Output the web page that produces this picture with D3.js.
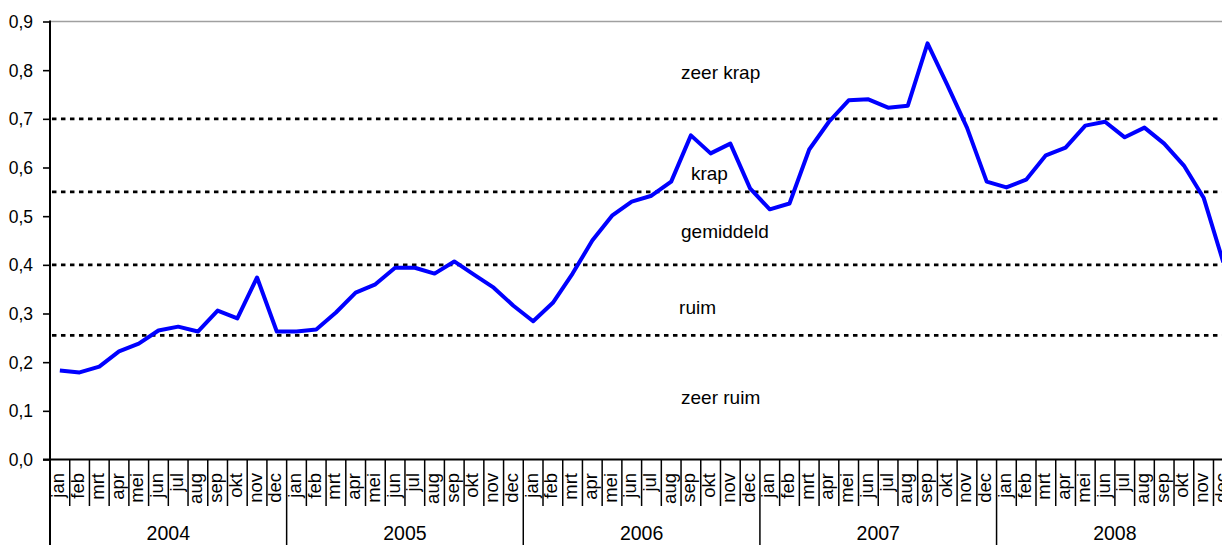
<!DOCTYPE html>
<html>
<head>
<meta charset="utf-8">
<script src="https://cdn.jsdelivr.net/npm/d3@7/dist/d3.min.js"></script>
<style>
  html, body { margin: 0; padding: 0; background: #fff; }
  svg { display: block; }
  text { font-family: "Liberation Sans", Arial, sans-serif; fill: #000; }
</style>
</head>
<body>
<svg id="chart" width="1222" height="545"></svg>
<script>
// ---- data ----
const years = ["2004", "2005", "2006", "2007", "2008"];
const months = ["jan", "feb", "mrt", "apr", "mei", "jun", "jul", "aug", "sep", "okt", "nov", "dec"];
const values = [
  // 2004
  0.183, 0.179, 0.191, 0.222, 0.238, 0.265, 0.273, 0.263, 0.306, 0.290, 0.374, 0.263,
  // 2005
  0.263, 0.267, 0.302, 0.343, 0.360, 0.394, 0.394, 0.382, 0.407, 0.380, 0.353, 0.316,
  // 2006
  0.284, 0.322, 0.382, 0.450, 0.501, 0.530, 0.542, 0.571, 0.666, 0.629, 0.649, 0.557,
  // 2007
  0.514, 0.526, 0.637, 0.694, 0.738, 0.740, 0.723, 0.727, 0.855, 0.770, 0.682, 0.571,
  // 2008
  0.559, 0.575, 0.625, 0.641, 0.686, 0.694, 0.662, 0.682, 0.649, 0.604, 0.538, 0.405
];
const yTicks = [0, 0.1, 0.2, 0.3, 0.4, 0.5, 0.6, 0.7, 0.8, 0.9];
const thresholds = [0.255, 0.40, 0.55, 0.70];
const zoneLabels = ["zeer krap", "krap", "gemiddeld", "ruim", "zeer ruim"];
const zoneLabelY = [0.782, 0.574, 0.455, 0.299, 0.114];
const zoneLabelX = [32.0, 32.5, 32.0, 31.9, 32.0]; // in month units from start

// ---- layout ----
const svg = d3.select("#chart");
const mLeft = 50, mTop = 21.5, mBottom = 459.5;
const monthW = 19.72;
const nMonths = years.length * months.length;
const mRight = mLeft + nMonths * monthW;

const x = d3.scaleLinear().domain([0, nMonths]).range([mLeft, mRight]);
const y = d3.scaleLinear().domain([0, 0.9]).range([mBottom, mTop]);

const fmt = v => d3.format(".1f")(v).replace(".", ",");

// top border (gray)
svg.append("line")
  .attr("x1", mLeft).attr("x2", mRight)
  .attr("y1", y(0.9)).attr("y2", y(0.9))
  .attr("stroke", "#a0a0a0").attr("stroke-width", 1.6);

// threshold dotted lines
svg.selectAll("line.thr").data(thresholds).enter().append("line")
  .attr("class", "thr")
  .attr("x1", x(0.1)).attr("x2", mRight)
  .attr("y1", d => y(d)).attr("y2", d => y(d))
  .attr("stroke", "#000").attr("stroke-width", 2.8)
  .attr("stroke-dasharray", "4.5,4.5");

// y axis
const yAxis = d3.axisLeft(y).tickValues(yTicks).tickFormat(fmt).tickSize(7).tickSizeOuter(0);
const gy = svg.append("g").attr("transform", `translate(${mLeft},0)`).call(yAxis);
gy.select(".domain").remove();
gy.selectAll(".tick line").attr("stroke", "#000").attr("stroke-width", 1.6);
gy.selectAll(".tick text").attr("font-size", 17.5).attr("x", -17).attr("dy", "0.34em")
  .style("font-family", "'Liberation Sans', Arial, sans-serif").attr("fill", "#000");

// y axis vertical line (extends down through year band)
svg.append("line")
  .attr("x1", mLeft).attr("x2", mLeft)
  .attr("y1", mTop - 1).attr("y2", 545)
  .attr("stroke", "#000").attr("stroke-width", 2);

// x axis line
svg.append("line")
  .attr("x1", mLeft - 7).attr("x2", mRight)
  .attr("y1", mBottom).attr("y2", mBottom)
  .attr("stroke", "#000").attr("stroke-width", 1.8);

// month separators
const boundaries = d3.range(1, nMonths + 1);
svg.selectAll("line.msep").data(boundaries).enter().append("line")
  .attr("class", "msep")
  .attr("x1", d => x(d)).attr("x2", d => x(d))
  .attr("y1", mBottom).attr("y2", d => d % 12 === 0 ? 545 : 506)
  .attr("stroke", "#000").attr("stroke-width", 1.5);

// month labels
const monthData = d3.range(nMonths).map(i => ({ i, label: months[i % 12] }));
svg.selectAll("text.mlab").data(monthData).enter().append("text")
  .attr("class", "mlab")
  .attr("transform", d => `translate(${x(d.i + 0.5) + 4.5},473) rotate(-90)`)
  .attr("text-anchor", "end")
  .attr("font-size", 18.5)
  .text(d => d.label);

// year labels
svg.selectAll("text.ylab").data(years).enter().append("text")
  .attr("class", "ylab")
  .attr("x", (d, i) => x(i * 12 + 6))
  .attr("y", 540)
  .attr("text-anchor", "middle")
  .attr("font-size", 19.5)
  .text(d => d);

// zone labels
svg.selectAll("text.zlab").data(zoneLabels).enter().append("text")
  .attr("class", "zlab")
  .attr("x", (d, i) => x(zoneLabelX[i]))
  .attr("y", (d, i) => y(zoneLabelY[i]))
  .attr("font-size", 19)
  .text(d => d);

// series line
const line = d3.line().x((d, i) => x(i + 0.5)).y(d => y(d));
svg.append("path")
  .datum(values)
  .attr("d", line)
  .attr("fill", "none")
  .attr("stroke", "#0000ff")
  .attr("stroke-width", 4)
  .attr("stroke-linejoin", "round");
</script>
</body>
</html>
